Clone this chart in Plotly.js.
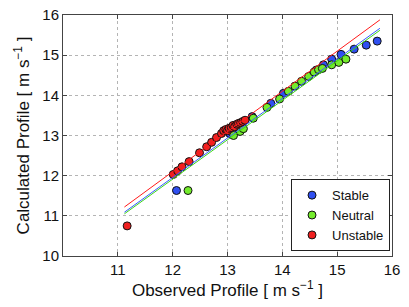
<!DOCTYPE html>
<html><head><meta charset="utf-8">
<script src="https://cdn.plot.ly/plotly-3.0.1.min.js"></script>
<style>html,body{margin:0;padding:0;background:#fff}#chart{width:409px;height:307px}</style>
</head><body><div id="chart"></div>
<script>
const stableX = [12.07, 13.04, 13.20, 13.45, 13.79, 14.02, 14.62, 14.75, 14.90, 15.07, 15.31, 15.53, 15.73];
const stableY = [11.63, 13.05, 13.16, 13.47, 13.80, 14.05, 14.63, 14.76, 14.90, 15.02, 15.15, 15.25, 15.35];
const neutralX = [12.28, 13.11, 13.23, 13.29, 13.47, 13.72, 13.95, 14.11, 14.23, 14.35, 14.48, 14.58, 14.66, 14.73, 14.90, 15.03, 15.16];
const neutralY = [11.63, 13.00, 13.10, 13.17, 13.43, 13.70, 13.91, 14.10, 14.23, 14.35, 14.47, 14.58, 14.64, 14.67, 14.76, 14.82, 14.90];
const unstableX = [11.17, 12.01, 12.09, 12.17, 12.30, 12.49, 12.62, 12.71, 12.80, 12.89, 12.93, 12.97, 13.00, 13.03, 13.07, 13.10, 13.13, 13.17, 13.20, 13.24, 13.28, 13.32];
const unstableY = [10.75, 12.03, 12.12, 12.22, 12.35, 12.57, 12.72, 12.83, 12.95, 13.05, 13.12, 13.15, 13.12, 13.18, 13.20, 13.25, 13.22, 13.28, 13.30, 13.32, 13.35, 13.38];
const fitX = [11.12, 15.78];
const fitStableY = [11.09, 15.67];
const fitNeutralY = [11.05, 15.62];
const fitUnstableY = [11.22, 15.88];
const xTicks = [11, 12, 13, 14, 15, 16];
const yTicks = [10, 11, 12, 13, 14, 15, 16];

const cBlue = '#2f4ff0', cGreen = '#74ec2c', cRed = '#f02020';
const mk = c => ({color: c, size: 8, line: {color: '#111', width: 1}});
const traces = [
  {x: stableX, y: stableY, mode: 'markers', type: 'scatter', name: 'Stable', marker: mk(cBlue)},
  {x: neutralX, y: neutralY, mode: 'markers', type: 'scatter', name: 'Neutral', marker: mk(cGreen)},
  {x: unstableX, y: unstableY, mode: 'markers', type: 'scatter', name: 'Unstable', marker: mk(cRed)},
  {x: fitX, y: fitStableY, mode: 'lines', type: 'scatter', showlegend: false, line: {color: '#3a5cff', width: 1}},
  {x: fitX, y: fitNeutralY, mode: 'lines', type: 'scatter', showlegend: false, line: {color: '#3cd61a', width: 1}},
  {x: fitX, y: fitUnstableY, mode: 'lines', type: 'scatter', showlegend: false, line: {color: '#ff1a1a', width: 1}}
];
const ax = {
  showline: true, mirror: 'ticks', linecolor: '#444', linewidth: 1,
  ticks: 'inside', ticklen: 4, tickcolor: '#444',
  showgrid: true, gridcolor: '#b4b4b4', griddash: 'dot', gridwidth: 1,
  zeroline: false, tickfont: {size: 15, color: '#111'}
};
const layout = {
  width: 409, height: 307,
  margin: {l: 63, r: 17, t: 15, b: 51},
  paper_bgcolor: '#fff', plot_bgcolor: '#fff',
  font: {family: 'Liberation Sans, Arial, sans-serif', color: '#111'},
  showlegend: true,
  legend: {x: 0.994, y: 0.02, xanchor: 'right', yanchor: 'bottom', bordercolor: '#222', borderwidth: 1,
    bgcolor: '#fff', font: {size: 13}, tracegroupgap: 0},
  xaxis: Object.assign({}, ax, {range: [10, 16], tickvals: xTicks, ticktext: xTicks.map(String),
    title: {text: 'Observed Profile [ m s<sup>−1</sup> ]', font: {size: 17}, standoff: 4}}),
  yaxis: Object.assign({}, ax, {range: [10, 16], tickvals: yTicks, ticktext: yTicks.map(String),
    title: {text: 'Calculated Profile [ m s<sup>−1</sup> ]', font: {size: 17}, standoff: 8}})
};
Plotly.newPlot('chart', traces, layout, {staticPlot: true, displayModeBar: false});
</script></body></html>
